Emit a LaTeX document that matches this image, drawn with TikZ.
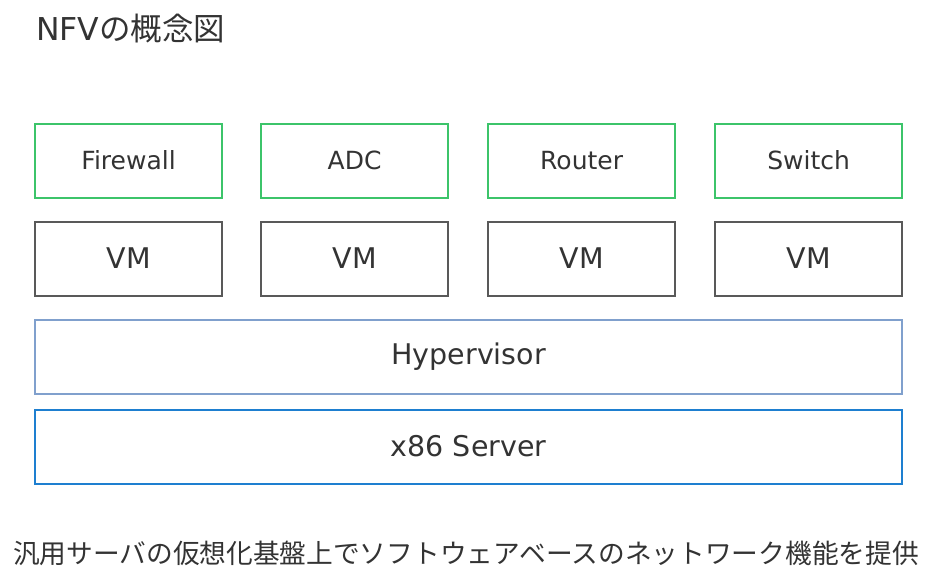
\documentclass[tikz,border=0pt]{standalone}
\usepackage{fontspec}
\setmainfont{DejaVu Sans}
\newfontfamily\jp{Noto Sans CJK JP}
\begin{document}
\begin{tikzpicture}[x=1pt,y=-1pt,
  box/.style={draw, line width=2.2pt, minimum height=74pt, inner sep=0pt, text=black!80, anchor=north west},
  fn/.style={box, draw={rgb,255:red,60;green,196;blue,106}, minimum width=187pt, font=\fontsize{25}{30}\selectfont},
  vm/.style={box, draw=black!65, minimum width=187pt, font=\fontsize{28.5}{32}\selectfont},
  hv/.style={box, draw={rgb,255:red,128;green,160;blue,205}, minimum width=867pt, font=\fontsize{28.5}{32}\selectfont},
  srv/.style={box, draw={rgb,255:red,30;green,127;blue,208}, minimum width=867pt, font=\fontsize{28.5}{32}\selectfont},
  lift/.style={text depth=2pt}]
\useasboundingbox (0,0) rectangle (932,588);
\node[anchor=west, font=\fontsize{31.5}{34}\selectfont, text=black!80, inner sep=0pt] (title) at (36,29) {NFV{\jp\fontsize{31.5}{34}\selectfont の概念図}};
\node[fn] (fw) at (34,123) {\raisebox{2pt}{Firewall}};
\node[fn] (adc) at (260,123) {\raisebox{2pt}{ADC}};
\node[fn] (rt) at (487,123) {\raisebox{2pt}{Router}};
\node[fn] (sw) at (714,123) {\raisebox{2pt}{Switch}};
\node[vm] (vm1) at (34,221) {\raisebox{2pt}{VM}};
\node[vm] (vm2) at (260,221) {\raisebox{2pt}{VM}};
\node[vm] (vm3) at (487,221) {\raisebox{2pt}{VM}};
\node[vm] (vm4) at (714,221) {\raisebox{2pt}{VM}};
\node[hv] (hv) at (34,319) {Hypervisor};
\node[srv] (srv) at (34,409) {\raisebox{2pt}{x86 Server}};
\node[anchor=center, font=\jp\fontsize{26.7}{30}\selectfont, text=black!80] (cap) at (466,553) {汎用サーバの仮想化基盤上でソフトウェアベースのネットワーク機能を提供};
\end{tikzpicture}
\end{document}
